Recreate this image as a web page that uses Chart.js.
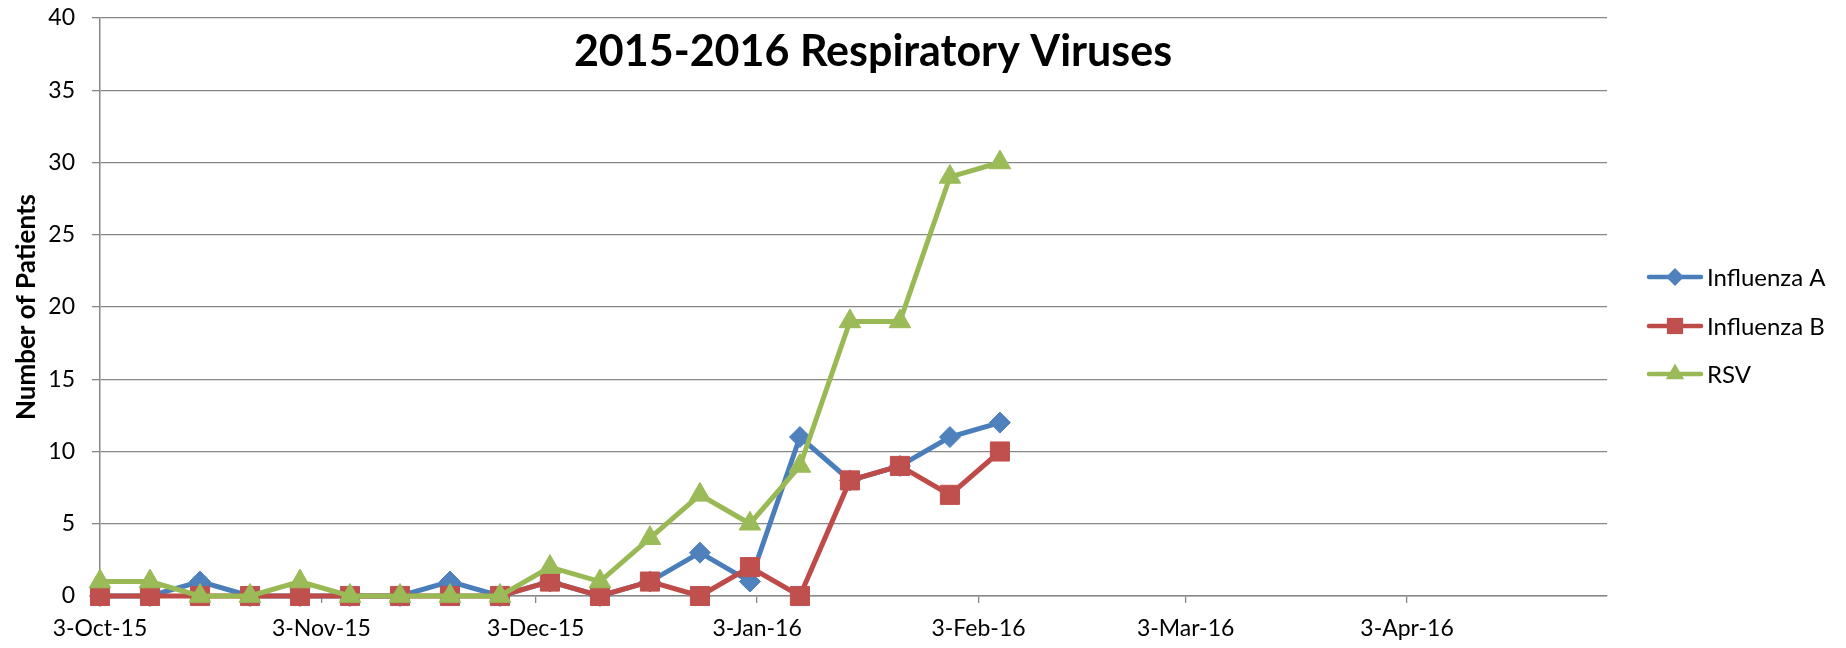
<!DOCTYPE html>
<html>
<head>
<meta charset="utf-8">
<title>2015-2016 Respiratory Viruses</title>
<script src="https://cdn.jsdelivr.net/npm/chart.js@4.4.0/dist/chart.umd.min.js"></script>
<style>
  html, body { margin: 0; padding: 0; background: #fff; }
  #wrap { position: relative; width: 1846px; height: 648px; }
</style>
</head>
<body>
<div id="wrap"><canvas id="virusChart"></canvas></div>
<script>
// weekly report dates
const weekDates = [
  '2015-10-03', '2015-10-10', '2015-10-17', '2015-10-24', '2015-10-31',
  '2015-11-07', '2015-11-14', '2015-11-21', '2015-11-28', '2015-12-05',
  '2015-12-12', '2015-12-19', '2015-12-26', '2016-01-02', '2016-01-09',
  '2016-01-16', '2016-01-23', '2016-01-30', '2016-02-06'
];
const influenzaA = [0, 0, 1, 0, 0, 0, 0, 1, 0, 1, 0, 1, 3, 1, 11, 8, 9, 11, 12];
const influenzaB = [0, 0, 0, 0, 0, 0, 0, 0, 0, 1, 0, 1, 0, 2, 0, 8, 9, 7, 10];
const rsv = [1, 1, 0, 0, 1, 0, 0, 0, 0, 2, 1, 4, 7, 5, 9, 19, 19, 29, 30];

const tickDates = ['2015-10-03', '2015-11-03', '2015-12-03', '2016-01-03', '2016-02-03', '2016-03-03', '2016-04-03'];
const tickLabels = ['3-Oct-15', '3-Nov-15', '3-Dec-15', '3-Jan-16', '3-Feb-16', '3-Mar-16', '3-Apr-16'];
const axisStart = '2015-10-03';
const axisEnd = '2016-05-01';
const seriesNames = ['Influenza A', 'Influenza B', 'RSV'];

const FONT = 'Lato, "Open Sans", sans-serif';
const DAY = 86400000;
function dayOf(d) {
  return (Date.parse(d + 'T00:00:00Z') - Date.parse(axisStart + 'T00:00:00Z')) / DAY;
}
function toPoints(values) {
  return values.map((v, i) => ({ x: dayOf(weekDates[i]), y: v }));
}

const styles = [
  { line: '#4A7EBB', fill: '#4F81BD', point: 'rectRot', radius: 10.5 },
  { line: '#BE4B48', fill: '#C0504D', point: 'rect', radius: 13.5 },
  { line: '#98B954', fill: '#9BBB59', point: 'triangle', radius: 12.5 }
];
const seriesData = [influenzaA, influenzaB, rsv];

const datasets = seriesData.map((vals, i) => ({
  label: seriesNames[i],
  data: toPoints(vals),
  borderColor: styles[i].line,
  backgroundColor: styles[i].fill,
  pointBackgroundColor: styles[i].fill,
  pointBorderColor: styles[i].fill,
  pointBorderWidth: 1,
  pointStyle: styles[i].point,
  pointRadius: styles[i].radius,
  borderWidth: 5,
  tension: 0,
  clip: false,
  order: 3 - i
}));

// overlay title like the Excel chart
const titlePlugin = {
  id: 'overlayTitle',
  afterDraw(chart) {
    const ctx = chart.ctx;
    ctx.save();
    ctx.font = 'bold 43px ' + FONT;
    ctx.fillStyle = '#000';
    ctx.textAlign = 'center';
    ctx.textBaseline = 'middle';
    ctx.fillText('2015-2016 Respiratory Viruses', 873, 52);
    ctx.restore();
  }
};

function drawMarker(ctx, style, x, y, r) {
  ctx.beginPath();
  if (style === 'rectRot') {
    ctx.moveTo(x - r, y); ctx.lineTo(x, y - r); ctx.lineTo(x + r, y); ctx.lineTo(x, y + r);
  } else if (style === 'rect') {
    const s = r * Math.SQRT1_2;
    ctx.rect(x - s, y - s, 2 * s, 2 * s);
  } else {
    ctx.moveTo(x, y - r);
    ctx.lineTo(x + r * 0.866, y + r / 2);
    ctx.lineTo(x - r * 0.866, y + r / 2);
  }
  ctx.closePath();
  ctx.fill();
}

// legend: line with marker, to the right of the plot
const legendPlugin = {
  id: 'lineLegend',
  afterDraw(chart) {
    const ctx = chart.ctx;
    const rows = [277, 326, 374];
    ctx.save();
    ctx.font = '24px ' + FONT;
    ctx.textBaseline = 'middle';
    seriesNames.forEach((name, i) => {
      const y = rows[i];
      ctx.strokeStyle = styles[i].line;
      ctx.lineWidth = 4.5;
      ctx.lineCap = 'round';
      ctx.beginPath();
      ctx.moveTo(1649, y);
      ctx.lineTo(1701, y);
      ctx.stroke();
      ctx.fillStyle = styles[i].fill;
      drawMarker(ctx, styles[i].point, 1675, y, styles[i].radius * 0.85);
      ctx.fillStyle = '#000';
      ctx.fillText(name, 1707, y + 1);
    });
    ctx.restore();
  }
};

const chart = new Chart(document.getElementById('virusChart'), {
  type: 'line',
  data: { datasets: datasets },
  options: {
    responsive: true,
    maintainAspectRatio: false,
    animation: false,
    layout: { padding: { top: 18, right: 239, bottom: 0, left: 0 } },
    plugins: {
      legend: { display: false },
      title: { display: false },
      tooltip: { enabled: false }
    },
    scales: {
      x: {
        type: 'linear',
        min: 0,
        max: dayOf(axisEnd),
        afterBuildTicks: (axis) => {
          axis.ticks = tickDates.map(d => ({ value: dayOf(d) }));
        },
        afterFit: (scale) => { scale.height = 52; },
        ticks: {
          autoSkip: false,
          maxRotation: 0,
          padding: 12,
          color: '#000',
          font: { family: FONT, size: 23 },
          callback: (value) => {
            const idx = tickDates.findIndex(d => dayOf(d) === value);
            return idx >= 0 ? tickLabels[idx] : '';
          }
        },
        grid: { drawOnChartArea: false, drawTicks: true, tickLength: 7, color: '#878787', lineWidth: 1.3 },
        border: { color: '#878787', width: 1.5 }
      },
      y: {
        min: 0,
        max: 40,
        afterFit: (scale) => {
          scale.width = 100;
          scale.paddingTop = 0;
          scale.paddingBottom = 0;
        },
        ticks: {
          stepSize: 5,
          padding: 17,
          color: '#000',
          font: { family: FONT, size: 23 }
        },
        grid: { color: '#878787', lineWidth: 1.3, tickLength: 8 },
        border: { color: '#878787', width: 1.5 },
        title: {
          display: true,
          text: 'Number of Patients',
          color: '#000',
          font: { family: FONT, size: 26, weight: 'bold' },
          padding: { top: 11, bottom: 0 }
        }
      }
    }
  },
  plugins: [titlePlugin, legendPlugin]
});
</script>
</body>
</html>
